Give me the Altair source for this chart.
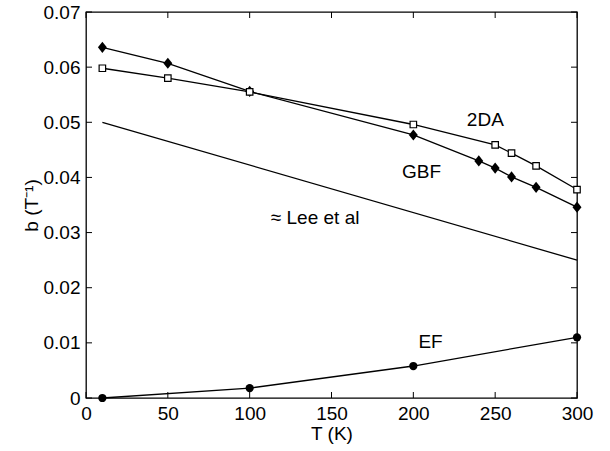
import altair as alt
import pandas as pd

gbf_T = [10, 50, 100, 200, 240, 250, 260, 275, 300]
gbf_b = [0.0636, 0.0607, 0.0556, 0.0477, 0.0430, 0.0417, 0.0401, 0.0382, 0.0346]
da_T = [10, 50, 100, 200, 250, 260, 275, 300]
da_b = [0.0598, 0.0580, 0.0555, 0.0496, 0.0459, 0.0444, 0.0421, 0.0378]
lee_T = [10, 300]
lee_b = [0.0500, 0.0250]
ef_T = [10, 100, 200, 300]
ef_b = [0.0, 0.0018, 0.0058, 0.0110]

label_text = ["2DA", "GBF", "\u2248 Lee et al", "EF"]
label_T = [244, 205, 140, 210.5]
label_b = [0.0504, 0.0410, 0.0326, 0.0101]

x_ticks = [0, 50, 100, 150, 200, 250, 300]
y_ticks = [0, 0.01, 0.02, 0.03, 0.04, 0.05, 0.06, 0.07]

W, H = 491, 386
FONT = "Liberation Sans"
FS = 19

xs = alt.Scale(domain=[0, 300], nice=False)
ys = alt.Scale(domain=[0, 0.07], nice=False)

gbf = pd.DataFrame({"T": gbf_T, "b": gbf_b})
da = pd.DataFrame({"T": da_T, "b": da_b})
lee = pd.DataFrame({"T": lee_T, "b": lee_b})
ef = pd.DataFrame({"T": ef_T, "b": ef_b})
labels = pd.DataFrame({"text": label_text, "T": label_T, "b": label_b})
xt = pd.DataFrame({"v": x_ticks})
yt = pd.DataFrame({"v": y_ticks})

X = alt.X("T:Q", scale=xs, axis=alt.Axis(
    title="T (K)", values=x_ticks, tickSize=0, labelPadding=6, format="d", labelFlush=False,
    labelFontSize=FS, titleFontSize=FS, titlePadding=1, labelFont=FONT, titleFont=FONT,
    labelColor="black", titleColor="black", domain=False, grid=False, titleFontWeight="normal"))
Y = alt.Y("b:Q", scale=ys, axis=alt.Axis(
    title="b (T\u207b\u00b9)", values=y_ticks, tickSize=0, labelPadding=6, labelFlush=False,
    labelExpr="datum.value == 0 ? '0' : format(datum.value, '.2f')",
    labelFontSize=FS, titleFontSize=FS, titlePadding=2, labelFont=FONT, titleFont=FONT,
    labelColor="black", titleColor="black", domain=False, grid=False, titleFontWeight="normal"))

base_line = dict(color="black", strokeWidth=1.3)

DIAMOND = "M0,-1L0.8,0L0,1L-0.8,0Z"

l_gbf = alt.Chart(gbf).mark_line(**base_line).encode(x=X, y=Y)
p_gbf = alt.Chart(gbf).mark_point(shape=DIAMOND, filled=True, color="black", size=125, opacity=1).encode(x="T:Q", y="b:Q")
l_da = alt.Chart(da).mark_line(**base_line).encode(x="T:Q", y="b:Q")
p_da = alt.Chart(da).mark_point(shape="square", filled=True, fill="white", stroke="black", strokeWidth=1.2, size=42, opacity=1).encode(x="T:Q", y="b:Q")
l_lee = alt.Chart(lee).mark_line(**base_line).encode(x="T:Q", y="b:Q")
l_ef = alt.Chart(ef).mark_line(**base_line).encode(x="T:Q", y="b:Q")
p_ef = alt.Chart(ef).mark_point(shape="circle", filled=True, color="black", size=68, opacity=1).encode(x="T:Q", y="b:Q")

txt = alt.Chart(labels).mark_text(font=FONT, fontSize=FS, color="black").encode(
    x="T:Q", y="b:Q", text="text:N")

tk = dict(color="black", strokeWidth=1)
xb = alt.Chart(xt).mark_rule(**tk).encode(x="v:Q", y=alt.value(H), y2=alt.value(H - 6))
xtp = alt.Chart(xt).mark_rule(**tk).encode(x="v:Q", y=alt.value(0), y2=alt.value(6))
yl = alt.Chart(yt).mark_rule(**tk).encode(y="v:Q", x=alt.value(0), x2=alt.value(6))
yr = alt.Chart(yt).mark_rule(**tk).encode(y="v:Q", x=alt.value(W), x2=alt.value(W - 6))

chart = alt.layer(l_gbf, l_da, l_lee, l_ef, p_gbf, p_da, p_ef, txt, xb, xtp, yl, yr).properties(
    width=W, height=H,
    autosize=alt.AutoSizeParams(type="none"),
    padding={"left": 86, "top": 12, "right": 33, "bottom": 53},
    background="white",
).configure_view(stroke="black", strokeWidth=1.3)

chart.save("out.html", embed_options={"renderer": "svg", "actions": False})
